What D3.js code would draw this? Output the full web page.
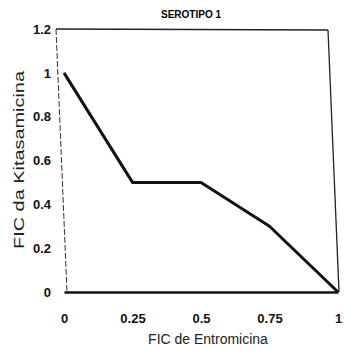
<!DOCTYPE html>
<html>
<head>
<meta charset="utf-8">
<script src="https://cdn.jsdelivr.net/npm/d3@7"></script>
<style>
body { margin: 0; background: #fff; }
.tick text { font-family: "Liberation Sans Narrow", "Liberation Sans", sans-serif; font-weight: bold; font-size: 13px; fill: #111; }
</style>
</head>
<body>
<svg id="svg" width="345" height="351"></svg>
<script>
// data
var xValues = [0, 0.25, 0.5, 0.75, 1];
var yValues = [1, 0.5, 0.5, 0.3, 0];
var xTicks = [0, 0.25, 0.5, 0.75, 1];
var yTicks = [0, 0.2, 0.4, 0.6, 0.8, 1, 1.2];

const plotLeft = 64, plotRight = 338, plotTop = 29, plotBottom = 292;

var svg = d3.select('#svg');

const xScale = d3.scaleLinear().domain([0, 1]).range([plotLeft, plotRight]);
const yScale = d3.scaleLinear().domain([0, 1.2]).range([plotBottom, plotTop]);

// frame (the scan is a bit skewed)
svg.append('line')
  .attr('x1', plotLeft - 8).attr('y1', plotTop).attr('x2', plotRight - 10).attr('y2', plotTop + 1)
  .attr('stroke', '#222').attr('stroke-width', 1.3);
svg.append('line')
  .attr('x1', plotRight - 10).attr('y1', plotTop + 1).attr('x2', plotRight + 1).attr('y2', plotBottom)
  .attr('stroke', '#222').attr('stroke-width', 1.3);
svg.append('line')
  .attr('x1', plotLeft - 8).attr('y1', plotTop).attr('x2', plotLeft + 3).attr('y2', plotBottom)
  .attr('stroke', '#333').attr('stroke-width', 1).attr('stroke-dasharray', '6,2');

// x axis
svg.append('g')
  .attr('transform', 'translate(0,' + plotBottom + ')')
  .call(d3.axisBottom(xScale).tickValues(xTicks).tickSize(0).tickPadding(22)
    .tickFormat(function(d){ return String(d); }))
  .call(function(g){ g.select('.domain').attr('stroke', '#111').attr('stroke-width', 2.5); });

// y axis
svg.append('g')
  .attr('transform', 'translate(' + (plotLeft - 3) + ',0)')
  .call(d3.axisLeft(yScale).tickValues(yTicks).tickSize(0).tickPadding(10)
    .tickFormat(function(d){ return d === 0 || d === 1 ? d : d3.format('.1f')(d); }))
  .call(function(g){ g.select('.domain').remove(); });

// line
const line = d3.line()
  .x(function(d, i){ return xScale(xValues[i]); })
  .y(function(d){ return yScale(d); });

svg.append('path')
  .datum(yValues)
  .attr('d', line)
  .attr('fill', 'none')
  .attr('stroke', '#111')
  .attr('stroke-width', 3)
  .attr('stroke-linejoin', 'round');

// titles
svg.append('text')
  .attr('x', 191).attr('y', 18)
  .attr('text-anchor', 'middle')
  .style('font-family', '"Liberation Sans", Arial, sans-serif')
  .style('font-weight', 'bold').style('font-size', '10px')
  .text('SEROTIPO 1');

svg.append('text')
  .attr('x', 208).attr('y', 344)
  .attr('text-anchor', 'middle')
  .style('font-family', '"Liberation Sans Narrow", "Liberation Sans", sans-serif')
  .style('font-size', '14px').style('fill', '#222')
  .text('FIC de Entromicina');

svg.append('text')
  .attr('transform', 'translate(24,160) rotate(-90)')
  .attr('text-anchor', 'middle')
  .attr('textLength', 178).attr('lengthAdjust', 'spacingAndGlyphs')
  .style('font-family', '"Liberation Sans Narrow", "Liberation Sans", sans-serif')
  .style('font-size', '14px').style('fill', '#222')
  .text('FIC da Kitasamicina');
</script>
</body>
</html>
